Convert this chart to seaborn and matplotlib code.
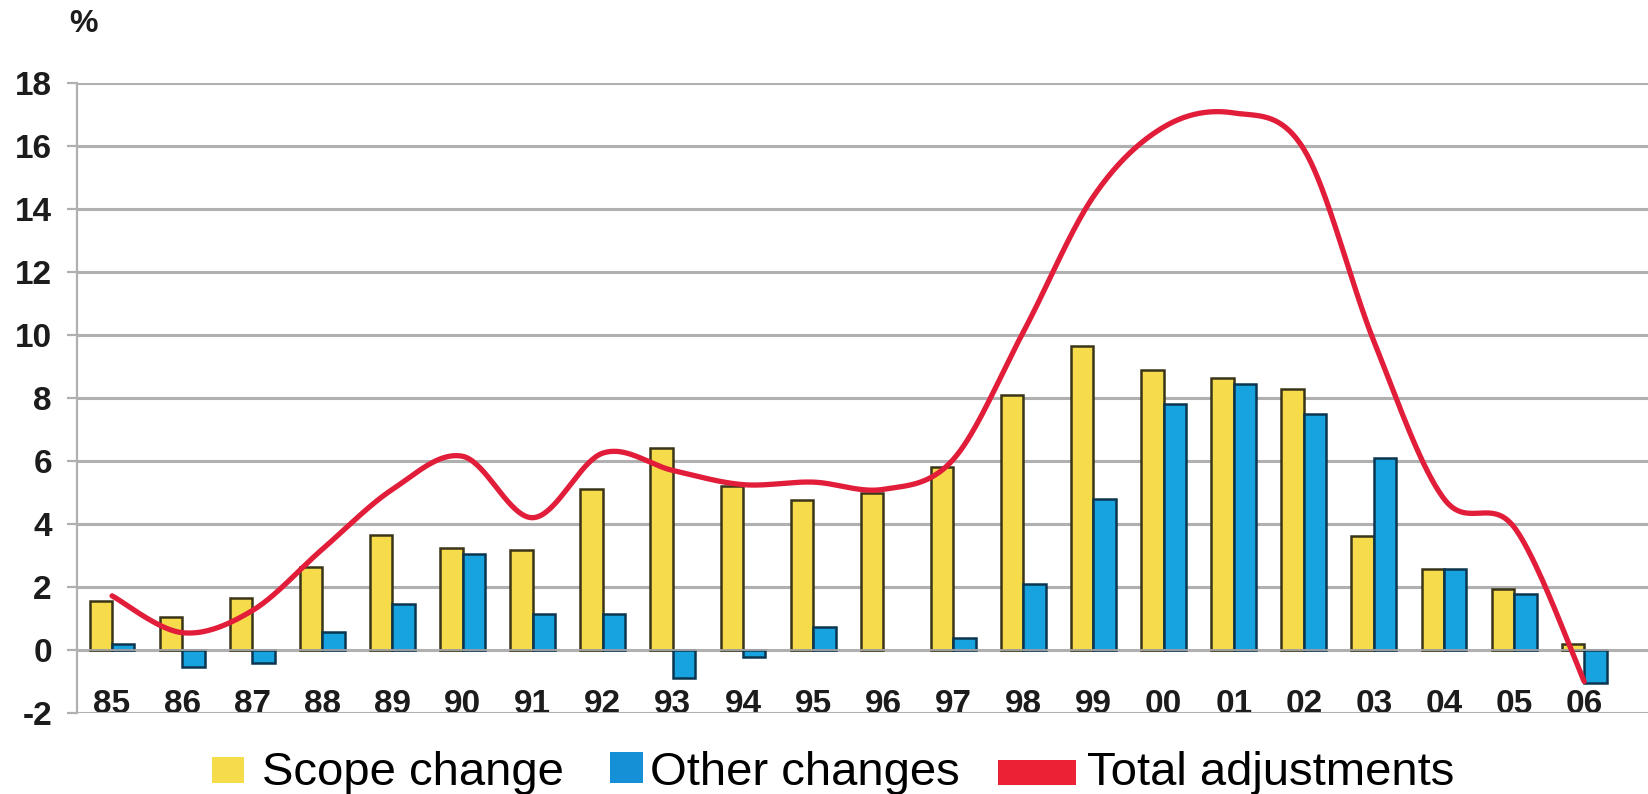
import numpy as np
import pandas as pd
import matplotlib
matplotlib.use("Agg")
import matplotlib.pyplot as plt
from matplotlib.patches import Rectangle
import seaborn as sns

# ---- data -------------------------------------------------------------
years = ["85", "86", "87", "88", "89", "90", "91", "92", "93", "94", "95",
         "96", "97", "98", "99", "00", "01", "02", "03", "04", "05", "06"]
scope_change = [1.54, 1.05, 1.66, 2.64, 3.65, 3.25, 3.18, 5.10, 6.40, 5.20, 4.77,
                5.00, 5.80, 8.10, 9.65, 8.88, 8.62, 8.30, 3.62, 2.58, 1.95, 0.20]
other_changes = [0.18, -0.54, -0.40, 0.58, 1.45, 3.05, 1.15, 1.15, -0.90, -0.22, 0.72,
                 np.nan, 0.38, 2.10, 4.78, 7.82, 8.45, 7.50, 6.10, 2.56, 1.78, -1.05]
total_adjustments = [1.72, 0.55, 1.25, 3.20, 5.10, 6.15, 4.20, 6.25, 5.70, 5.25, 5.33,
                     5.10, 6.05, 10.10, 14.40, 16.60, 17.05, 15.90, 9.80, 4.80, 3.90, -1.00]
series_names = ["Scope change", "Other changes", "Total adjustments"]
y_ticks = list(range(-2, 19, 2))

# ---- style ------------------------------------------------------------
sns.set_style("white")
plt.rcParams["font.family"] = ["Liberation Sans", "DejaVu Sans"]

YELLOW = "#F6DB4B"
YELLOW_EDGE = "#3a3419"
BLUE = "#17A2E0"
BLUE_EDGE = "#0c3550"
RED = "#E11D3A"
GRID = "#b0b0b0"
TEXT = "#1c1c1c"

W, H = 1648, 794
fig = plt.figure(figsize=(W / 100, H / 100), dpi=100)
ax = fig.add_axes([77 / W, 1 - 713 / H, 1 - 77 / W, (713 - 83) / H])

df = pd.DataFrame({
    "year": years * 2,
    "value": scope_change + other_changes,
    "series": [series_names[0]] * len(years) + [series_names[1]] * len(years),
})

sns.barplot(data=df, x="year", y="value", hue="series", order=years,
            hue_order=series_names[:2], palette=[YELLOW, BLUE], width=0.64,
            gap=0, saturation=1, linewidth=1.8, legend=False, ax=ax, zorder=2)
for cont, ec in zip(ax.containers, [YELLOW_EDGE, BLUE_EDGE]):
    for bar in cont:
        bar.set_edgecolor(ec)

# smoothed total line (cubic Bezier segments through every point)
xs = np.arange(len(years), dtype=float)
ys = np.asarray(total_adjustments, dtype=float)
px = np.concatenate([[xs[0]], xs, [xs[-1]]])
py = np.concatenate([[ys[0]], ys, [ys[-1]]])
t = np.linspace(0, 1, 40)
cx, cy = [], []
for i in range(len(xs) - 1):
    p0 = np.array([px[i], py[i]]); p1 = np.array([px[i + 1], py[i + 1]])
    p2 = np.array([px[i + 2], py[i + 2]]); p3 = np.array([px[i + 3], py[i + 3]])
    c1 = p1 + (p2 - p0) / 6.0
    c2 = p2 - (p3 - p1) / 6.0
    pts = ((1 - t)[:, None] ** 3 * p1 + 3 * ((1 - t) ** 2 * t)[:, None] * c1
           + 3 * ((1 - t) * t ** 2)[:, None] * c2 + (t ** 3)[:, None] * p2)
    cx.extend(pts[:, 0]); cy.extend(pts[:, 1])
ax.plot(cx, cy, color=RED, lw=3.8, solid_capstyle="round", zorder=4)

# ---- axes -------------------------------------------------------------
ax.set_xlim(-0.5, len(years) - 0.5 + 0.41)
ax.set_ylim(-2, 18)
ax.set_yticks(y_ticks)
ax.set_yticklabels([str(v) for v in y_ticks])
ax.set_axisbelow(True)
ax.yaxis.grid(True, color=GRID, lw=2.2)
ax.xaxis.grid(False)
ax.set_xlabel("")
ax.set_ylabel("")

for side in ["top", "right"]:
    ax.spines[side].set_visible(False)
ax.spines["left"].set_color(GRID)
ax.spines["left"].set_linewidth(1.6)
ax.spines["bottom"].set_position(("data", 0))
ax.spines["bottom"].set_color(GRID)
ax.spines["bottom"].set_linewidth(1.2)

ax.set_xticks(np.arange(len(years)) + 0.5, minor=True)
ax.tick_params(axis="x", which="major", length=0, pad=28, labelsize=24,
               labelcolor=TEXT)
ax.tick_params(axis="x", which="minor", length=7, width=1.2, color=GRID,
               direction="out")
ax.tick_params(axis="y", length=7, width=1.6, color=GRID, pad=11,
               labelsize=24, labelcolor=TEXT, left=True)
for lab in ax.get_xticklabels() + ax.get_yticklabels():
    lab.set_fontweight("bold")

fig.text(83 / W, 1 - 24 / H, "%", ha="center", va="center", fontsize=23,
         fontweight="bold", color=TEXT)

# ---- legend -----------------------------------------------------------
legend_items = [
    (series_names[0], YELLOW, (212, 757, 32, 26), 262),
    (series_names[1], "#1590D6", (610, 752, 33, 31), 650),
    (series_names[2], "#EC2136", (998, 760, 78, 25), 1087),
]
for label, color, (x0, y0, w, h), tx in legend_items:
    fig.add_artist(Rectangle((x0 / W, 1 - (y0 + h) / H), w / W, h / H,
                             transform=fig.transFigure, facecolor=color,
                             edgecolor="none"))
    fig.text(tx / W, 1 - 785 / H, label, ha="left", va="baseline",
             fontsize=34, color="black")

fig.savefig("out.png", dpi=100, facecolor="white")
